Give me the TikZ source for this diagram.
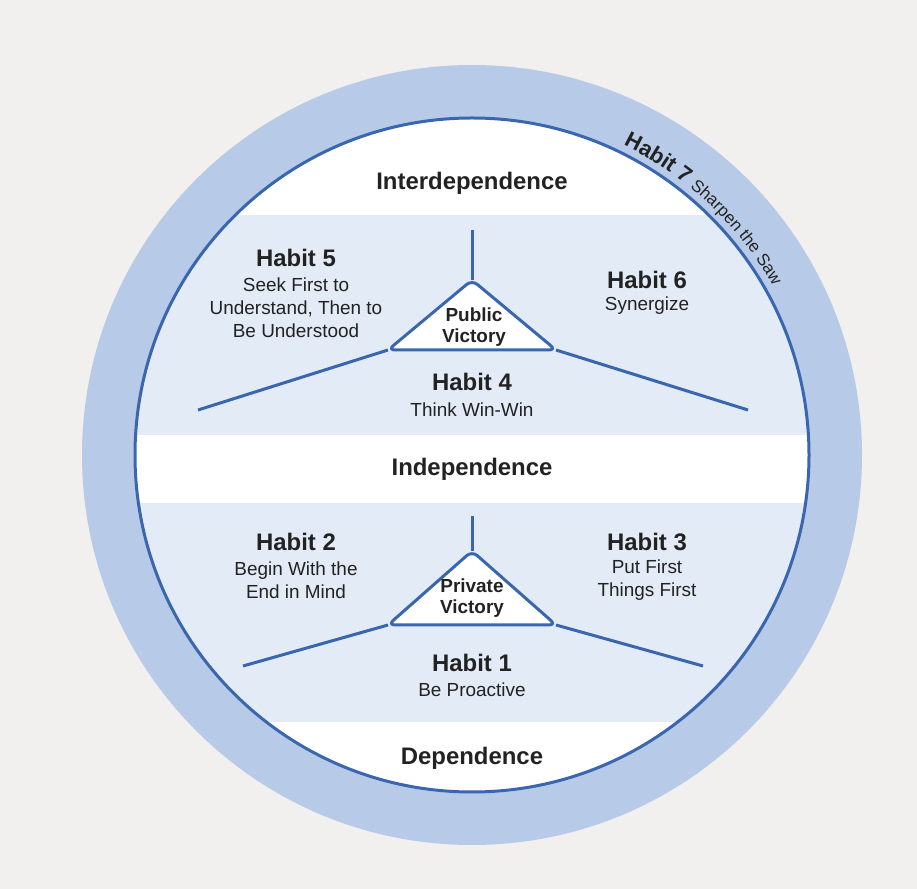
\documentclass[tikz,border=0pt]{standalone}
\usepackage{fontspec}
\setmainfont{Liberation Sans}
\usetikzlibrary{decorations.text}
\definecolor{bg}{HTML}{F1F0EE}
\definecolor{ring}{HTML}{B7CBE8}
\definecolor{band}{HTML}{E3EBF6}
\definecolor{dblue}{HTML}{3A66B0}
\definecolor{txt}{HTML}{222222}
\begin{document}
\begin{tikzpicture}[x=1bp,y=1bp,
  hd/.style={font=\fontsize{24}{26}\selectfont\bfseries,text=txt,inner sep=0pt},
  sub/.style={font=\fontsize{19}{23}\selectfont,text=txt,align=center,inner sep=0pt},
  vic/.style={font=\fontsize{19}{21}\selectfont\bfseries,text=txt,align=center,inner sep=0pt},
  ln/.style={dblue,line width=3bp}]
\fill[bg] (0,0) rectangle (917,889);
\useasboundingbox (0,0) rectangle (917,889);
\coordinate (c) at (472,434);
\fill[ring] (c) circle (390);
\fill[white] (c) circle (337);
\begin{scope}
\clip (c) circle (337);
\fill[band] (0,454) rectangle (917,674);
\fill[band] (0,167) rectangle (917,386);
\end{scope}
\draw[ln] (c) circle (337);
% upper
\coordinate (ut) at (472,659);
\coordinate (ua) at (472,609);
\coordinate (ul) at (388,539);
\coordinate (ur) at (556,539);
\coordinate (ule) at (198,479);
\coordinate (ure) at (748,479);
\draw[ln] (ut) -- (ua);
\draw[ln] (ul) -- (ule);
\draw[ln] (ur) -- (ure);
\draw[ln,fill=white,rounded corners=7] (ul) -- (ua) -- (ur) -- cycle;
% lower
\coordinate (lt) at (472,373);
\coordinate (la) at (472,338);
\coordinate (ll) at (388,264);
\coordinate (lr) at (556,264);
\coordinate (lle) at (243,223);
\coordinate (lre) at (703,223);
\draw[ln] (lt) -- (la);
\draw[ln] (ll) -- (lle);
\draw[ln] (lr) -- (lre);
\draw[ln,fill=white,rounded corners=7] (ll) -- (la) -- (lr) -- cycle;
% texts
\node[hd] (inter) at (472,706) {Interdependence};
\node[hd] (h5) at (296,631) {Habit 5};
\node[sub] (h5t) at (296,581) {Seek First to\\Understand, Then to\\Be Understood};
\node[hd] (h6) at (647,609) {Habit 6};
\node[sub] (h6t) at (647,583) {Synergize};
\node[vic] (pv) at (474,562) {Public\\Victory};
\node[hd] (h4) at (472,507) {Habit 4};
\node[sub] (h4t) at (472,479) {Think Win-Win};
\node[hd] (ind) at (472,420) {Independence};
\node[hd] (h2) at (296,347) {Habit 2};
\node[sub] (h2t) at (296,308.5) {Begin With the\\End in Mind};
\node[hd] (h3) at (647,347) {Habit 3};
\node[sub] (h3t) at (647,308.5) {Put First\\Things First};
\node[vic] (prv) at (472,291) {Private\\Victory};
\node[hd] (h1) at (472,226) {Habit 1};
\node[sub] (h1t) at (472,199) {Be Proactive};
\node[hd] (dep) at (472,131) {Dependence};
% habit 7 along arc
\path[decorate,decoration={text along path,text align=left,
  text={|\fontsize{22}{24}\selectfont\bfseries\color{txt}|Habit 7 |\fontsize{17}{18}\selectfont\color{txt}|Sharpen the Saw}}]
  (c) ++(64:345) arc[start angle=64,end angle=15,radius=345];
\end{tikzpicture}
\end{document}
